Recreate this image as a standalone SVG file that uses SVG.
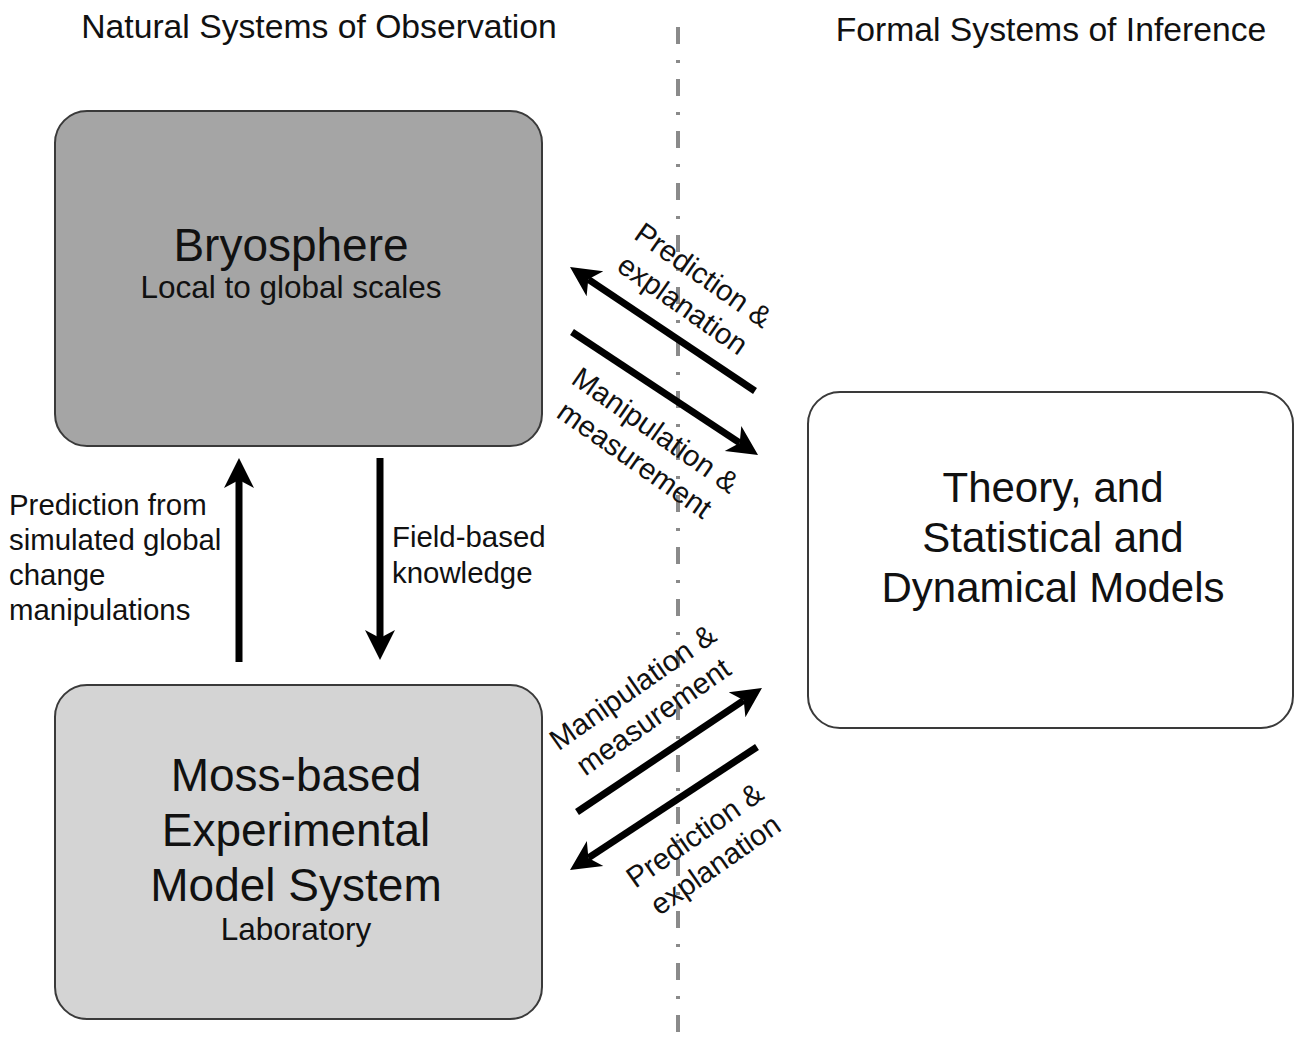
<svg xmlns="http://www.w3.org/2000/svg" width="1294" height="1050" viewBox="0 0 1294 1050">
<defs>
<style>
text{font-family:"Liberation Sans",Arial,sans-serif;fill:#111}
.hdr{font-size:33.7px;text-anchor:middle}
.big{font-size:46px;text-anchor:middle}
.sub{font-size:31.5px;text-anchor:middle}
.lbl{font-size:29.4px}
.rl{font-size:29.5px;text-anchor:middle}
.box{stroke:#3a3a3a;stroke-width:2}
.arr{stroke:#000;stroke-width:7;fill:none;marker-end:url(#ah)}
</style>
<marker id="ah" markerUnits="userSpaceOnUse" markerWidth="40" markerHeight="40" viewBox="-10 -20 40 40" refX="0" refY="0" orient="auto">
<path d="M22,0 L-8,-15 L0,0 L-8,15 Z" fill="#000"/>
</marker>
</defs>
<rect width="1294" height="1050" fill="#fff"/>
<line x1="678" y1="27" x2="678" y2="1048" stroke="#8a8a8a" stroke-width="4" stroke-dasharray="17 16 3 16"/>
<text class="hdr" x="319" y="38">Natural Systems of Observation</text>
<text class="hdr" x="1051" y="41">Formal Systems of Inference</text>
<g id="bryosphere">
<rect class="box" x="55" y="111" width="487" height="335" rx="32" fill="#a5a5a5"/>
<text class="big" x="291" y="261">Bryosphere</text>
<text class="sub" x="291" y="298">Local to global scales</text>
</g>
<g id="moss">
<rect class="box" x="55" y="685" width="487" height="334" rx="32" fill="#d4d4d4"/>
<text class="big" x="296" y="791">Moss-based</text>
<text class="big" x="296" y="846">Experimental</text>
<text class="big" x="296" y="901">Model System</text>
<text class="sub" x="296" y="940">Laboratory</text>
</g>
<g id="theory">
<rect class="box" x="808" y="392" width="485" height="336" rx="32" fill="#fff"/>
<text class="big" x="1053" y="502" style="font-size:42px">Theory, and</text>
<text class="big" x="1053" y="552" style="font-size:42px">Statistical and</text>
<text class="big" x="1053" y="602" style="font-size:42px">Dynamical Models</text>
</g>
<g id="connectors">
<line class="arr" x1="239" y1="662" x2="239" y2="480"/>
<line class="arr" x1="380" y1="458" x2="380" y2="638"/>
<line class="arr" x1="755" y1="391" x2="588.3" y2="279.3"/>
<line class="arr" x1="572" y1="332" x2="739.7" y2="442.9"/>
<line class="arr" x1="577" y1="812" x2="743.7" y2="700.3"/>
<line class="arr" x1="757" y1="747" x2="588.4" y2="857.9"/>
</g>
<g id="labels">
<text class="lbl" x="9" y="515">Prediction from</text>
<text class="lbl" x="9" y="550">simulated global</text>
<text class="lbl" x="9" y="585">change</text>
<text class="lbl" x="9" y="620">manipulations</text>
<text class="lbl" x="392" y="547">Field-based</text>
<text class="lbl" x="392" y="583">knowledge</text>
<g transform="translate(693,290) rotate(35)">
<text class="rl" x="0" y="-8">Prediction &amp;</text>
<text class="rl" x="0" y="28">explanation</text>
</g>
<g transform="translate(645,445) rotate(35)">
<text class="rl" x="0" y="-8">Manipulation &amp;</text>
<text class="rl" x="0" y="28">measurement</text>
</g>
<g transform="translate(643,702) rotate(-35)">
<text class="rl" x="0" y="-8">Manipulation &amp;</text>
<text class="rl" x="0" y="28">measurement</text>
</g>
<g transform="translate(705,850) rotate(-35)">
<text class="rl" x="0" y="-8">Prediction &amp;</text>
<text class="rl" x="0" y="28">explanation</text>
</g>
</g>
</svg>
